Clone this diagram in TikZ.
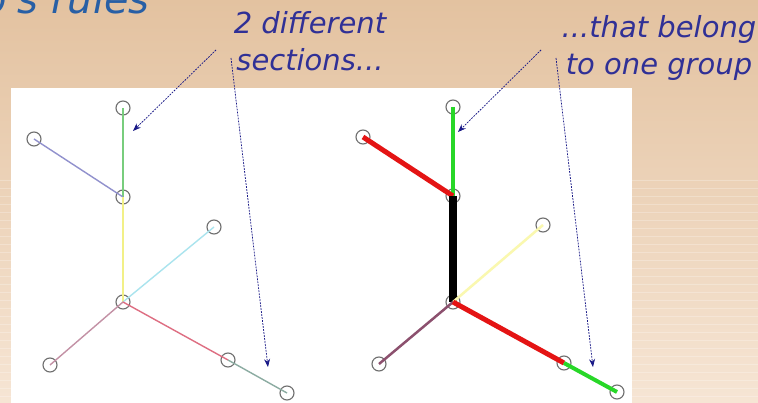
\documentclass[tikz,border=0pt]{standalone}
\usepackage{fontspec}
\usepackage{xcolor}
\usepackage{tikz}
\usetikzlibrary{arrows.meta, positioning, calc}
\newfontfamily\notefont{DejaVu Sans}

\definecolor{bgtop}{RGB}{227,194,160}
\definecolor{bgbot}{RGB}{246,229,212}
\definecolor{notecol}{RGB}{48,48,150}
\definecolor{titlecol}{RGB}{40,95,165}
\definecolor{arrowcol}{RGB}{25,25,135}
\definecolor{ringcol}{RGB}{110,110,110}

\tikzset{
  joint/.style={circle, draw=ringcol, line width=1.1pt, minimum size=14pt, inner sep=0pt},
  note/.style={font=\notefont\itshape\fontsize{29}{37}\selectfont, text=notecol, align=center, inner sep=0pt},
  pointer/.style={arrowcol, line width=0.75pt, dash pattern=on 1.8pt off 1.2pt, -{Stealth[length=8pt, width=6pt]}},
  thinbone/.style={line width=1.4pt},
}

\begin{document}
\begin{tikzpicture}[x=1pt, y=-1pt]
    \useasboundingbox (0,0) rectangle (758,403);
    \clip (0,0) rectangle (758,403);

    % Hintergrund
    \shade[top color=bgtop, bottom color=bgbot] (0,0) rectangle (758,403);
    \foreach \y in {180,188,...,400}
        \draw[white, opacity=0.25, line width=0.6pt] (0,\y) -- (758,\y);
    \fill[white] (11,88) rectangle (632,403);

    % Titel (oben abgeschnitten)
    \node[font=\notefont\itshape\fontsize{40}{46}\selectfont, text=titlecol, anchor=base east, inner sep=0pt] (title) at (150,14) {o's rules};

    % linkes Skelett
    \node[joint] (ltop) at (123,108) {};
    \node[joint] (lul) at (34,139) {};
    \node[joint] (lmid) at (123,197) {};
    \node[joint] (lright) at (214,227) {};
    \node[joint] (lcen) at (123,302) {};
    \node[joint] (lll) at (50,365) {};
    \node[joint] (llr) at (228,360) {};
    \node[joint] (lfar) at (287,393) {};

    \draw[thinbone, color={rgb,255:red,120;green,205;blue,125}] (ltop.center) -- (lmid.center);
    \draw[thinbone, color={rgb,255:red,145;green,145;blue,205}] (lul.center) -- (lmid.center);
    \draw[thinbone, color={rgb,255:red,242;green,240;blue,135}] (lmid.center) -- (lcen.center);
    \draw[thinbone, color={rgb,255:red,170;green,228;blue,238}] (lcen.center) -- (lright.center);
    \draw[thinbone, color={rgb,255:red,195;green,145;blue,165}] (lcen.center) -- (lll.center);
    \draw[thinbone, color={rgb,255:red,222;green,110;blue,130}] (lcen.center) -- (llr.center);
    \draw[thinbone, color={rgb,255:red,140;green,172;blue,162}] (llr.center) -- (lfar.center);

    % rechtes Skelett
    \node[joint] (rtop) at (453,107) {};
    \node[joint] (rul) at (363,137) {};
    \node[joint] (rmid) at (453,196) {};
    \node[joint] (rright) at (543,225) {};
    \node[joint] (rcen) at (453,302) {};
    \node[joint] (rll) at (379,364) {};
    \node[joint] (rlr) at (564,363) {};
    \node[joint] (rfar) at (617,392) {};

    \draw[line width=4pt, color={rgb,255:red,40;green,215;blue,40}] (rtop.center) -- (rmid.center);
    \draw[line width=5pt, color={rgb,255:red,228;green,20;blue,20}] (rul.center) -- (rmid.center);
    \draw[line width=8pt, black] (rmid.center) -- (rcen.center);
    \draw[line width=2.5pt, color={rgb,255:red,250;green,248;blue,175}] (rcen.center) -- (rright.center);
    \draw[line width=2.5pt, color={rgb,255:red,140;green,80;blue,110}] (rcen.center) -- (rll.center);
    \draw[line width=5pt, color={rgb,255:red,228;green,20;blue,20}] (rcen.center) -- (rlr.center);
    \draw[line width=4pt, color={rgb,255:red,40;green,215;blue,40}] (rlr.center) -- (rfar.center);

    % Beschriftungen
    \node[note] (sections) at (310,41) {2 different\\sections...};
    \node[note] (group) at (659,48) {...that belong\\to one group};

    % Pfeile
    \coordinate (sa) at (216,50);
    \coordinate (sb) at (231,58);
    \coordinate (ga) at (541,50);
    \coordinate (gb) at (556,58);
    \coordinate (lgreen) at (133,131);
    \coordinate (lgray) at (268,367);
    \coordinate (rgreen) at (458,132);
    \coordinate (rgreenb) at (593,367);
    \draw[pointer] (sa) -- (lgreen);
    \draw[pointer] (sb) -- (lgray);
    \draw[pointer] (ga) -- (rgreen);
    \draw[pointer] (gb) -- (rgreenb);

\end{tikzpicture}
\end{document}
